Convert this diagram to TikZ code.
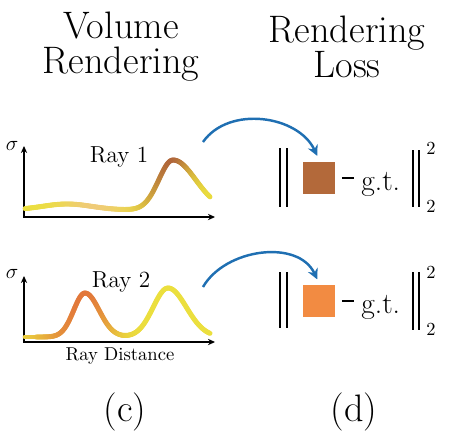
\documentclass[tikz,border=0pt]{standalone}
\usetikzlibrary{arrows.meta}

\definecolor{rayyellow}{HTML}{EBDF3E}
\definecolor{raytan}{HTML}{EFCB78}
\definecolor{raybrown}{HTML}{B0663A}
\definecolor{rayorange}{HTML}{E2763A}
\definecolor{lossbrown}{HTML}{B3693A}
\definecolor{lossorange}{HTML}{F28B42}
\definecolor{flowblue}{HTML}{1F6FB2}

\tikzset{
  declare function={
    densone(\x)=210-6*exp(-((\x-67)/35)^2)-50*exp(-((\x-173)/((\x<173)?20:32))^2);
    denstwo(\x)=337-44*exp(-((\x-85)/((\x<85)?16:20))^2)-49*exp(-((\x-168)/((\x<168)?21:26))^2);
  },
  title/.style={font=\fontsize{21.8}{20}\selectfont, align=center, inner sep=0pt},
  caption/.style={font=\fontsize{21.8}{22}\selectfont, anchor=base, inner sep=0pt},
  raylabel/.style={font=\fontsize{13.2}{15}\selectfont, anchor=base, inner sep=0pt},
  axislabel/.style={font=\fontsize{12}{14}\selectfont, inner sep=0pt},
  axis/.style={line width=0.85pt, {Stealth[length=4pt,width=3.6pt]}-{Stealth[length=4pt,width=3.6pt]}},
  density/.style={line width=2.8pt, line cap=round},
  normbar/.style={line width=1.4pt},
  minus/.style={line width=1.7pt},
  lossbox/.style={minimum size=0.64cm, inner sep=0pt},
  gtlabel/.style={font=\fontsize{16.8}{19}\selectfont, anchor=base west, inner sep=0pt},
  normexp/.style={font=\fontsize{10.5}{12}\selectfont, inner sep=0pt},
  flow/.style={flowblue, line width=1.4pt, -{Stealth[length=6pt,width=6pt]}}
}

\begin{document}
\begin{tikzpicture}[x=0.02cm,y=-0.02cm]
  \useasboundingbox (0,0) rectangle (461,444);

  % titles
  \node[title] (voltitle) at (121,47) {Volume\\Rendering};
  \node[title] (losstitle) at (347,47) {Rendering\\Loss};

  % ray 1
  \coordinate (yone) at (24,146);
  \coordinate (oone) at (24,217);
  \coordinate (xone) at (215,217);
  \draw[axis] (yone) -- (oone) -- (xone);
  \node[axislabel] (sigone) at (12,146) {$\sigma$};
  \node[raylabel] (rayone) at (119,162) {Ray 1};
  \foreach \x in {25,...,209} {
    \pgfmathtruncatemacro\t{min(100,100*exp(-((\x-95)/35)^2))}
    \pgfmathtruncatemacro\w{min(100,100*exp(-((\x-172)/((\x<172)?25:20))^2))}
    \colorlet{segcol}{raytan!\t!rayyellow}
    \draw[density, raybrown!\w!segcol] (\x,{densone(\x)}) -- (\x+1,{densone(\x+1)});
  }

  % ray 2
  \coordinate (ytwo) at (24,276);
  \coordinate (otwo) at (24,342);
  \coordinate (xtwo) at (215,342);
  \draw[axis] (ytwo) -- (otwo) -- (xtwo);
  \node[axislabel] (sigtwo) at (12,274) {$\sigma$};
  \node[raylabel] (raytwo) at (121,287) {Ray 2};
  \node[raylabel, font=\fontsize{10.6}{12}\selectfont] (raydist) at (120,360) {Ray Distance};
  \foreach \x in {25,...,209} {
    \pgfmathtruncatemacro\w{100*exp(-((\x-85)/((\x<85)?45:30))^2)}
    \draw[density, rayorange!\w!rayyellow] (\x,{denstwo(\x)}) -- (\x+1,{denstwo(\x+1)});
  }

  % loss 1
  \foreach \bx in {280,287} \draw[normbar] (\bx,148) -- (\bx,207);
  \node[lossbox, fill=lossbrown] (predone) at (319,177.5) {};
  \draw[minus] (342,178) -- (354,178);
  \node[gtlabel] (gtone) at (361,190) {g.t.};
  \foreach \bx in {413,419} \draw[normbar] (\bx,150) -- (\bx,207);
  \node[normexp] (supone) at (431,148) {2};
  \node[normexp] (subone) at (431,206) {2};
  \coordinate (srcone) at (203,142);
  \draw[flow] (srcone) to[out=55,in=115] ([shift={(-1pt,3pt)}]predone.north);

  % loss 2
  \foreach \bx in {280,287} \draw[normbar] (\bx,272) -- (\bx,328);
  \node[lossbox, fill=lossorange] (predtwo) at (319,301) {};
  \draw[minus] (342,301) -- (354,301);
  \node[gtlabel] (gttwo) at (361,313) {g.t.};
  \foreach \bx in {413,419} \draw[normbar] (\bx,272) -- (\bx,330);
  \node[normexp] (suptwo) at (431,272) {2};
  \node[normexp] (subtwo) at (431,329) {2};
  \coordinate (srctwo) at (203,287);
  \draw[flow] (srctwo) to[out=60,in=115] ([shift={(-1pt,3pt)}]predtwo.north);

  % captions
  \node[caption] (capc) at (125,421) {(c)};
  \node[caption] (capd) at (354,421) {(d)};
\end{tikzpicture}
\end{document}
